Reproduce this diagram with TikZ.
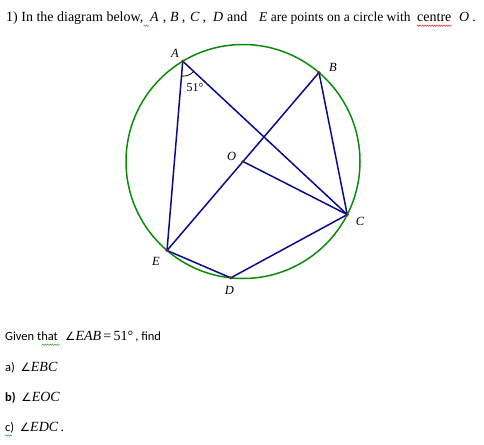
\documentclass[tikz,border=0pt]{standalone}
\usepackage{fontspec}
\setmainfont{Liberation Serif}
\newfontfamily\calibri{Carlito}
\newfontfamily\symfont{DejaVu Sans}
\usetikzlibrary{angles,decorations.pathmorphing}
\definecolor{circgreen}{RGB}{10,140,10}
\definecolor{linenavy}{RGB}{10,10,140}
\definecolor{ptred}{RGB}{190,0,0}
\definecolor{wavegreen}{RGB}{60,160,60}
\definecolor{wavered}{RGB}{220,40,40}
\newcommand{\angl}{{\symfont\fontsize{11.5}{13}\selectfont ∠}}
\newcommand{\mth}[1]{{\rmfamily\fontsize{14}{16}\selectfont #1}}

\begin{document}
\begin{tikzpicture}[x=1pt,y=-1pt]
\tikzset{
    seg/.style={draw=linenavy, line width=1.5pt},
    dot/.style={fill=ptred, draw=black!70, line width=0.2pt},
    lbl/.style={font=\fontsize{12.5}{14}\selectfont\itshape, inner sep=0pt},
    txt/.style={anchor=base west, inner sep=0pt, font=\fontsize{14}{16}\selectfont},
    task/.style={txt, font=\calibri\fontsize{12.5}{14}\selectfont},
    squig/.style={decorate, decoration={snake, amplitude=0.7pt, segment length=2.4pt}, line width=0.5pt},
}
\useasboundingbox (0,0) rectangle (484,444);
%%%QUESTION
\node[txt] (t1) at (6,21.7) {1) In the diagram below,};
\node[txt] (tA) at (150,21.7) {\textit{A}\hspace{4pt},};
\node[txt] (tB) at (170,21.7) {\textit{B}\hspace{3pt},};
\node[txt] (tC) at (190,21.7) {\textit{C}\hspace{3pt},};
\node[txt] (tD) at (213,21.7) {\textit{D}};
\node[txt] (tand) at (227,21.7) {and};
\node[txt, font=\fontsize{13.5}{16}\selectfont] (tE) at (259,21.7) {\textit{E} are points on a circle with};
\node[txt] (tcentre) at (417,21.7) {centre};
\node[txt] (tO) at (459,21.7) {\textit{O}\hspace{3pt}.};
\draw[squig, wavegreen] ([yshift=-4pt]t1.base east) -- ([xshift=-1pt,yshift=-4pt]tA.base west);
\draw[squig, wavered] ([yshift=-4pt]tcentre.base west) -- ([yshift=-4pt]tcentre.base east);
%%%CIRCLE AND POINTS
\coordinate (O) at (243,161.5);
\path (O) ++(-121:117) coordinate (A)
      (O) ++(-49.5:117) coordinate (B)
      (O) ++(27:117) coordinate (C)
      (O) ++(96:117) coordinate (D)
      (O) ++(130.5:117) coordinate (E);
\draw[circgreen, line width=1.5pt] (O) circle (117);
%%%SEGMENTS
\draw[seg] (A) -- (E);
\draw[seg] (A) -- (C);
\draw[seg] (B) -- (E);
\draw[seg] (B) -- (C);
\draw[seg] (O) -- (C);
\draw[seg] (E) -- (D) -- (C);
%%%ANGLE
\pic[draw, line width=0.8pt, angle radius=15pt] {angle=E--A--C};
\node[inner sep=0pt, font=\fontsize{12}{14}\selectfont] (ang) at (195,88) {51°};
%%%DOTS
\foreach \p in {A,B,C,D,E,O}
  \path[dot] (\p) circle (1.5);
%%%LABELS
\node[lbl] (lA) at (175,53) {A};
\node[lbl] (lB) at (333,67) {B};
\node[lbl] (lO) at (231.7,156) {O};
\node[lbl] (lC) at (360,221) {C};
\node[lbl] (lE) at (156,261) {E};
\node[lbl] (lD) at (229.3,290) {D};
%%%TASKS
\node[task] (given) at (5,340.7) {Given that};
\node[task] (gmath) at (65,340.7)
  {\mth{\angl\textit{EAB}\,=\,51°\hspace{2pt}}, find};
\draw[squig, wavegreen] ([xshift=-16pt,yshift=-4pt]given.base east) -- ([xshift=2pt,yshift=-4pt]given.base east);
\node[task] (qa) at (5,371.7) {a) \ \mth{\angl\textit{EBC}}};
\node[task] (qb) at (5,401.7) {\textbf{b)} \ \mth{\angl\textit{EOC}}};
\node[task] (qc) at (5,431.7) {c) \ \mth{\angl\textit{EDC}\,.}};
\draw[squig, wavegreen] (5,435.5) -- (12,435.5);
\end{tikzpicture}
\end{document}
